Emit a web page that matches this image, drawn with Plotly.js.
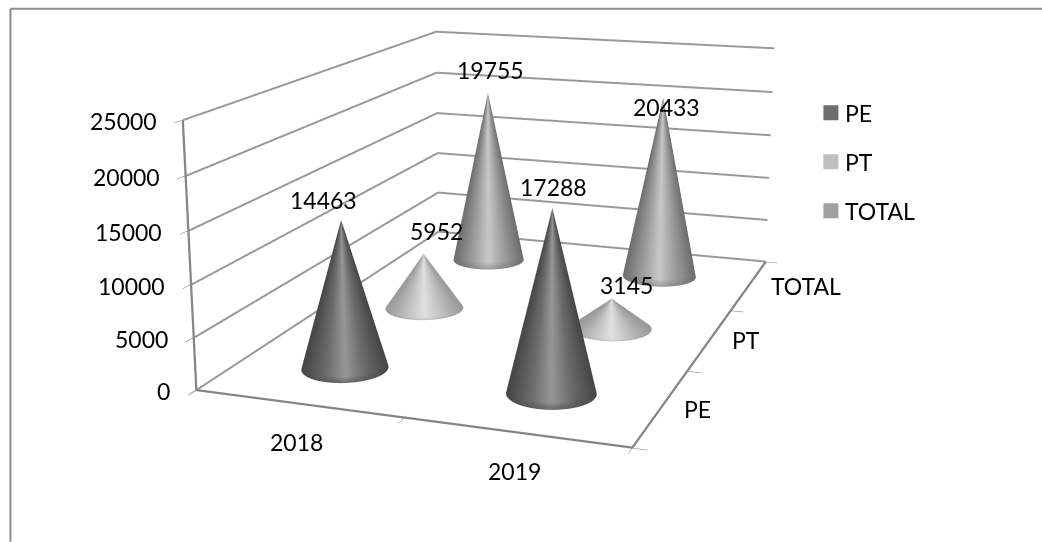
<!DOCTYPE html>
<html><head><meta charset="utf-8">
<script src="https://cdn.plot.ly/plotly-3.0.1.min.js"></script>
<style>html,body{margin:0;padding:0;width:1042px;height:542px;overflow:hidden;background:#fff}#c{position:absolute}</style>
</head><body><div id="c"></div>
<script>
const years=['2018','2019'];
const groups=['PE','PT','TOTAL'];
const PE=[14463,17288];
const PT=[5952,3145];
const TOTAL=[19755,20433];
const zTicks=[0,5000,10000,15000,20000,25000];
const legendCols=['#6e6e6e','#bfbfbf','#a0a0a0'];
const yaw=0.3353,pitch=0.2424,dist=4.0167,ay=1.4408,az=0.6093,cx=515.589,cy=201.2304,f=1617.267;
const H=Math.round(f/1.2071),W=2*H;
const pl=cx-W/2,ptop=cy-H/2;
const el=document.getElementById('c');el.style.left=pl+'px';el.style.top=ptop+'px';el.style.width=W+'px';el.style.height=H+'px';
const px=x=>(x-pl)/W,py=y=>1-(y-ptop)/H;
const eye={x:dist*Math.cos(pitch)*Math.sin(yaw),y:-dist*Math.cos(pitch)*Math.cos(yaw),z:dist*Math.sin(pitch)};
const font={family:'Lato, Carlito, sans-serif',size:23,color:'#000'};
const rx=0.2,ry=rx*0.5/(ay/3);
const scales={PE:[[0,'#464646'],[0.55,'#6c6c6c'],[1,'#979797']],PT:[[0,'#9a9a9a'],[0.55,'#c2c2c2'],[1,'#e0e0e0']],TOTAL:[[0,'#6e6e6e'],[0.55,'#9e9e9e'],[1,'#c8c8c8']]};
const series={PE,PT,TOTAL};
function cone(xc,yc,val,name){const X=[],Y=[],Z=[],C=[];const N=96;
 const ex=eye.x-(xc-1.5)/2,ey=eye.y-(yc-2)/3*ay,en=Math.hypot(ex,ey);
 for(const v of [0,0.04,0.5,1]){const a=[],b=[],c=[],d=[];for(let i=0;i<=N;i++){const u=2*Math.PI*i/N;
 const nx=Math.cos(u),ny=Math.sin(u),dot=(nx*ex+ny*ey)/en,cross=(nx*ey-ny*ex)/en;
 a.push(xc+rx*nx*(1-v));b.push(yc+ry*ny*(1-v));c.push(val*v);
 d.push(dot>0?(1-Math.abs(cross))*(v===0?0.55:1):0);}X.push(a);Y.push(b);Z.push(c);C.push(d);}
 return {type:'surface',x:X,y:Y,z:Z,surfacecolor:C,cmin:0,cmax:1,colorscale:scales[name],showscale:false,hoverinfo:'skip',showlegend:false,
 lighting:{ambient:1,diffuse:0,specular:0,roughness:1,fresnel:0},contours:{x:{show:false},y:{show:false},z:{show:false}}};}
const xr=[0.5,2.5],yr=[0.5,3.5],zTop=zTicks[zTicks.length-1];
const pad=0.004,zPad=40;
const gridTraces=zTicks.map(z=>({type:'scatter3d',mode:'lines',x:[xr[0],xr[0],xr[1]],y:[yr[0],yr[1],yr[1]],z:[z,z,z],line:{color:'#999999',width:4},hoverinfo:'skip',showlegend:false}));
const edgeTrace={type:'scatter3d',mode:'lines',x:[xr[0],xr[0],xr[1],xr[1]],y:[yr[0],yr[0],yr[0],yr[1]],z:[zTop,0,0,0],line:{color:'#858585',width:4.5},hoverinfo:'skip',showlegend:false};
const traces=gridTraces.concat([edgeTrace]);
groups.forEach((g,gi)=>years.forEach((y,yi)=>traces.push(cone(yi+1,gi+1,series[g][yi],g))));
const ann=[];
const a=(x,y,z,text,xs,ys,anc)=>ann.push({x,y,z,text:String(text),showarrow:false,xshift:xs,yshift:ys,xanchor:anc||'center',yanchor:'middle',font});
zTicks.forEach(z=>a(0.5,0.5,z,z,-24,-1,'right'));
years.forEach((y,i)=>a(i+1,0.5,0,y,-1,-39));
const yShift=[[36,-2],[36,-1],[57,-1]];
groups.forEach((g,i)=>a(2.5,i+1,0,g,yShift[i][0],yShift[i][1]));
const lShift={PE:[[-18,20],[1,21]],PT:[[13,23],[15,14]],TOTAL:[[3,23],[3,-9]]};
groups.forEach((g,gi)=>years.forEach((y,yi)=>a(yi+1,gi+1,series[g][yi],series[g][yi],lShift[g][yi][0],lShift[g][yi][1])));
const axis=(vals,range)=>({range,tickvals:vals,ticktext:vals.map(()=>''),showticklabels:false,ticks:'outside',ticklen:10,tickcolor:'#666666',title:{text:''},showgrid:false,zeroline:false,showbackground:false,showspikes:false,showline:false});
const legendY=[113,162,211];
const shapes=[{type:'line',xref:'paper',yref:'paper',x0:px(10),x1:px(1042),y0:py(9),y1:py(9),line:{color:'#8c8c8c',width:2}},
 {type:'line',xref:'paper',yref:'paper',x0:px(10),x1:px(10),y0:py(9),y1:py(542),line:{color:'#8c8c8c',width:2}}];
const annotations=[];
groups.forEach((g,i)=>{shapes.push({type:'rect',xref:'paper',yref:'paper',x0:px(823),x1:px(838),y0:py(legendY[i]-7.5),y1:py(legendY[i]+7.5),fillcolor:legendCols[i],line:{width:0}});
 annotations.push({xref:'paper',yref:'paper',x:px(845),y:py(legendY[i]),xanchor:'left',yanchor:'middle',xshift:-2,showarrow:false,text:g,font});});
const span=r=>r[1]-r[0];
const layout={width:W,height:H,margin:{l:0,r:0,t:0,b:0},paper_bgcolor:'#fff',font,showlegend:false,shapes,annotations,
 scene:{domain:{x:[0,1],y:[0,1]},aspectmode:'manual',aspectratio:{x:1+pad,y:ay*(1+2*pad/span(yr)),z:az*(1+2*zPad/zTop)},camera:{eye,center:{x:0,y:0,z:0},up:{x:0,y:0,z:1},projection:{type:'perspective'}},
 xaxis:axis([0.5,1.5,2.5],[xr[0]-pad,xr[1]+pad]),yaxis:axis([0.5,1.5,2.5,3.5],[yr[0]-pad,yr[1]+pad]),
 zaxis:axis(zTicks,[-zPad,zTop+zPad]),annotations:ann}};
Plotly.newPlot('c',traces,layout,{displayModeBar:false});
</script></body></html>
